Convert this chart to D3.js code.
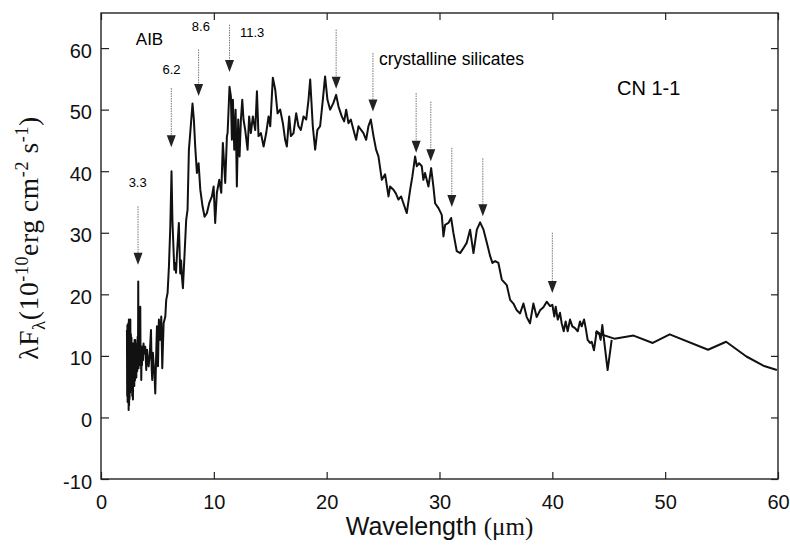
<!DOCTYPE html>
<html>
<head>
<meta charset="utf-8">
<script src="https://cdn.jsdelivr.net/npm/d3@7"></script>
<style>
  body { margin: 0; background: #fff; }
  svg { display: block; }
</style>
</head>
<body>
<div class="chart"></div>
<script>
// SWS part of the spectrum: [wavelength (um), lambda F_lambda]
const swsSpectrum = [
  [2.30, 14.2], [2.32, 3.5], [2.34, 15.0], [2.36, 2.5], [2.38, 14.0], [2.40, 4.5], [2.42, 15.3],
  [2.45, 1.2], [2.47, 15.9], [2.49, 2.0], [2.51, 13.0], [2.53, 3.0], [2.55, 14.5], [2.58, 4.0],
  [2.60, 15.9], [2.62, 5.5], [2.65, 13.5], [2.67, 4.5], [2.70, 13.0], [2.72, 6.0], [2.74, 12.1],
  [2.77, 3.5], [2.80, 11.0], [2.83, 2.9], [2.86, 12.0], [2.89, 5.5], [2.92, 11.5], [2.95, 5.1],
  [2.98, 12.6], [3.01, 6.0], [3.04, 12.6], [3.07, 7.2], [3.10, 11.0], [3.13, 6.5], [3.17, 12.0],
  [3.21, 7.5], [3.25, 13.1], [3.28, 9.0], [3.30, 22.1], [3.33, 8.0], [3.36, 12.0], [3.40, 8.5],
  [3.44, 10.5], [3.48, 18.0], [3.51, 8.5], [3.54, 11.0], [3.57, 6.1], [3.60, 11.5], [3.63, 8.5],
  [3.67, 11.5], [3.72, 9.3], [3.77, 12.0], [3.83, 10.4], [3.92, 11.5], [4.01, 7.7], [4.08, 11.0],
  [4.13, 9.9], [4.22, 8.3], [4.31, 9.9], [4.43, 14.2], [4.49, 8.0], [4.54, 6.1], [4.60, 10.5],
  [4.66, 8.8], [4.74, 7.0], [4.81, 3.9], [4.90, 10.9], [4.96, 14.8], [5.05, 8.3], [5.13, 15.9],
  [5.25, 12.6], [5.34, 16.4], [5.43, 8.0], [5.55, 15.3], [5.70, 16.4], [5.78, 19.1], [5.90, 20.2],
  [6.02, 24.5], [6.14, 30.9], [6.25, 40.0], [6.33, 32.0], [6.43, 27.2], [6.50, 24.0], [6.58, 25.1],
  [6.65, 23.5], [6.73, 26.4], [6.90, 31.6], [7.02, 23.4], [7.10, 25.5], [7.17, 22.9], [7.26, 21.0],
  [7.41, 26.7], [7.55, 32.1], [7.67, 33.7],
  [7.79, 43.5], [7.91, 46.2], [8.11, 51.0], [8.23, 48.4], [8.35, 44.0], [8.50, 39.7], [8.65, 41.3],
  [8.80, 37.0], [9.00, 34.3], [9.18, 32.6], [9.39, 33.2], [9.59, 34.8], [9.83, 35.9], [9.98, 37.5],
  [10.12, 31.6], [10.27, 36.5], [10.48, 38.6], [10.66, 36.5], [10.80, 44.6], [11.01, 38.1],
  [11.16, 45.7], [11.22, 46.2], [11.39, 53.7], [11.51, 52.2], [11.60, 45.1], [11.69, 51.6],
  [11.81, 43.5], [11.93, 50.0], [12.04, 37.5], [12.16, 48.4], [12.28, 42.4], [12.40, 48.4],
  [12.52, 51.6], [12.63, 48.4], [12.78, 46.7], [12.99, 43.5], [13.13, 48.9], [13.28, 46.2],
  [13.46, 48.9], [13.67, 46.7], [13.82, 53.0], [13.96, 45.7], [14.17, 46.2], [14.41, 44.0],
  [14.64, 46.2], [14.85, 48.9], [15.00, 47.3], [15.23, 55.2], [15.44, 53.3], [15.65, 49.4],
  [15.88, 50.0], [16.12, 47.8], [16.32, 45.1], [16.47, 44.0], [16.68, 48.9], [16.83, 45.7],
  [17.06, 46.2], [17.30, 49.4], [17.50, 47.3], [17.71, 46.7], [17.95, 48.9], [18.19, 48.4],
  [18.39, 51.6], [18.54, 54.9], [18.77, 47.3], [18.98, 43.5], [19.18, 46.7], [19.42, 47.3],
  [19.66, 51.6], [19.86, 55.4], [20.07, 51.6], [20.31, 50.0], [20.60, 51.1], [20.84, 52.4],
  [21.05, 50.5], [21.34, 48.9], [21.55, 48.1], [21.73, 50.0], [21.93, 47.8], [22.14, 48.4],
  [22.38, 46.7], [22.61, 45.1], [22.82, 47.3], [23.05, 46.7], [23.26, 46.2], [23.50, 45.1],
  [23.70, 47.3], [23.91, 48.4], [24.15, 45.7], [24.38, 43.5], [24.59, 42.4], [24.89, 38.6],
  [25.18, 39.5], [25.48, 35.9], [25.62, 37.5], [25.92, 37.0], [26.13, 36.4], [26.36, 35.4],
  [26.60, 35.9], [26.80, 34.8], [27.10, 33.2], [27.40, 37.0], [27.60, 39.2], [27.84, 42.4],
  [27.99, 40.8], [28.19, 41.3], [28.43, 40.8], [28.57, 38.6], [28.72, 39.7], [29.02, 37.5],
  [29.26, 40.5], [29.46, 37.5], [29.61, 34.8], [29.91, 34.0], [30.20, 32.9], [30.35, 29.4],
  [30.50, 31.3], [30.79, 31.6], [31.03, 32.4], [31.23, 30.0], [31.53, 27.0], [31.83, 26.7],
  [32.12, 27.5], [32.42, 28.4], [32.71, 30.5], [33.01, 26.7], [33.31, 30.5], [33.60, 31.7],
  [33.90, 30.5], [34.19, 28.4], [34.49, 26.2], [34.69, 25.1], [34.93, 25.4], [35.22, 25.1],
  [35.52, 22.4], [35.96, 21.5], [36.26, 19.1], [36.55, 18.5], [36.85, 17.4], [37.14, 16.9],
  [37.44, 18.5], [37.73, 16.3], [38.02, 15.3], [38.32, 18.5], [38.61, 16.3], [38.91, 17.4],
  [39.21, 17.9], [39.50, 18.8], [39.80, 18.1], [40.00, 18.3], [40.18, 16.4], [40.30, 18.0],
  [40.48, 15.9], [40.68, 17.0], [40.83, 15.3], [41.01, 14.0], [41.18, 15.6], [41.36, 14.0],
  [41.57, 15.9], [41.77, 14.8], [42.01, 14.5], [42.25, 14.0], [42.45, 15.6], [42.60, 14.8],
  [42.81, 15.9], [42.96, 14.5], [43.13, 12.6], [43.34, 12.1], [43.49, 12.3], [43.69, 10.9],
  [43.93, 14.0], [44.14, 13.7], [44.28, 12.6], [44.43, 15.0], [44.55, 13.1], [44.90, 7.7],
  [45.26, 12.6]
];

// LWS part of the spectrum
const lwsSpectrum = [
  [43.8, 13.8], [45.5, 12.8], [47.2, 13.3], [48.9, 12.1], [50.4, 13.5],
  [53.8, 11.0], [55.4, 12.3], [57.2, 9.9], [58.7, 8.4], [59.9, 7.7]
];

// feature arrows: wavelength, top of dotted line, arrow tip (flux units)
const featureWave = [3.28, 6.23, 8.65, 11.39, 20.84, 24.1, 27.93, 29.23, 31.09, 33.84, 40.0];
const featureTop  = [34.3, 53.5, 59.8, 63.8, 63.0, 59.2, 52.7, 51.3, 43.8, 42.1, 30.0];
const featureTip  = [24.8, 43.9, 52.2, 56.1, 53.4, 49.7, 43.0, 41.6, 34.2, 32.7, 20.2];

// band labels: text, wavelength, flux
const bandLabels = [
  {text: '3.3',  w: 3.25,  f: 37.4},
  {text: '6.2',  w: 6.25,  f: 55.8},
  {text: '8.6',  w: 8.85,  f: 62.7},
  {text: '11.3', w: 13.4,  f: 61.8}
];

const xTicks = [0, 10, 20, 30, 40, 50, 60];
const yTicks = [-10, 0, 10, 20, 30, 40, 50, 60];

const width = 790, height = 546;
const margin = {left: 101, right: 12, top: 13, bottom: 67};
const sans = '"Liberation Sans", Arial, Helvetica, sans-serif';
const serif = '"Liberation Serif", "Times New Roman", serif';

const svg = d3.select('.chart').append('svg')
    .attr('width', width)
    .attr('height', height);

const x = d3.scaleLinear().domain([0, 60]).range([margin.left, width - margin.right]);
const y = d3.scaleLinear().domain([-10, 65.7]).range([height - margin.bottom, margin.top]);

// plain hyphen for negative labels, like the original
const plain = d => String(d);

// ticks on all four sides, pointing in
const axisB = d3.axisBottom(x).tickValues(xTicks).tickFormat(plain).tickSizeInner(-7).tickSizeOuter(0).tickPadding(16);
const axisT = d3.axisTop(x).tickValues(xTicks).tickSizeInner(-7).tickSizeOuter(0).tickFormat('');
const axisL = d3.axisLeft(y).tickValues(yTicks).tickFormat(plain).tickSizeInner(-8).tickSizeOuter(0).tickPadding(9);
const axisR = d3.axisRight(y).tickValues(yTicks).tickSizeInner(-7).tickSizeOuter(0).tickFormat('');

function styleAxis(g) {
  g.select('.domain').remove();
  g.selectAll('.tick line').attr('stroke', '#222').attr('stroke-width', 1.2);
  g.selectAll('.tick text').attr('fill', '#111').attr('font-family', sans).attr('font-size', 20);
}

svg.append('g').attr('transform', `translate(0,${y(-10)})`).call(axisB).call(styleAxis);
svg.append('g').attr('transform', `translate(0,${y(65.7)})`).call(axisT).call(styleAxis);
svg.append('g').attr('transform', `translate(${x(0)},0)`).call(axisL).call(styleAxis)
    .selectAll('.tick text').attr('dy', '0.45em');
svg.append('g').attr('transform', `translate(${x(60)},0)`).call(axisR).call(styleAxis);

// frame
svg.append('rect')
    .attr('x', x(0)).attr('y', y(65.7))
    .attr('width', x(60) - x(0)).attr('height', y(-10) - y(65.7))
    .attr('fill', 'none').attr('stroke', '#222').attr('stroke-width', 1.4);

// spectrum
const line = d3.line().x(d => x(d[0])).y(d => y(d[1]));
[swsSpectrum, lwsSpectrum].forEach(s => {
  svg.append('path')
      .datum(s)
      .attr('d', line)
      .attr('fill', 'none')
      .attr('stroke', '#111')
      .attr('stroke-width', 2)
      .attr('stroke-linejoin', 'round');
});

// feature arrows
featureWave.forEach((w, i) => {
  const cx = x(w), tip = y(featureTip[i]);
  svg.append('line')
      .attr('x1', cx).attr('x2', cx)
      .attr('y1', y(featureTop[i])).attr('y2', tip - 10)
      .attr('stroke', '#777')
      .attr('stroke-width', 1)
      .attr('stroke-dasharray', '1.5,1');
  svg.append('path')
      .attr('d', `M${cx - 4.5},${tip - 12} L${cx + 4.5},${tip - 12} L${cx},${tip} Z`)
      .attr('fill', '#222');
});

// annotation text
bandLabels.forEach(d => {
  svg.append('text')
      .attr('x', x(d.w)).attr('y', y(d.f))
      .attr('text-anchor', 'middle')
      .attr('font-family', sans).attr('font-size', 13)
      .text(d.text);
});

svg.append('text')
    .attr('x', x(4.3)).attr('y', 45)
    .attr('text-anchor', 'middle')
    .attr('font-family', sans).attr('font-size', 17)
    .text('AIB');

svg.append('text')
    .attr('x', 379).attr('y', 65)
    .attr('font-family', sans).attr('font-size', 17.5)
    .text('crystalline silicates');

svg.append('text')
    .attr('x', 617).attr('y', 95)
    .attr('font-family', sans).attr('font-size', 20)
    .text('CN 1-1');

// x axis title
const xt = svg.append('text')
    .attr('x', (x(0) + x(60)) / 2).attr('y', 535)
    .attr('text-anchor', 'middle')
    .attr('font-family', sans).attr('font-size', 25)
    .attr('fill', '#111');
xt.append('tspan').text('Wavelength ');
xt.append('tspan').attr('font-family', serif).text('(μm)');

// y axis title
const yt = svg.append('text')
    .attr('transform', 'translate(38,238) rotate(-90)')
    .attr('text-anchor', 'middle')
    .attr('font-family', serif).attr('font-size', 27.5)
    .attr('letter-spacing', 0.6)
    .attr('fill', '#111');
yt.append('tspan').text('λF');
yt.append('tspan').attr('font-size', 19).attr('dy', 7).text('λ');
yt.append('tspan').attr('dy', -7).text('(10');
yt.append('tspan').attr('font-size', 18).attr('dy', -10).text('-10');
yt.append('tspan').attr('dy', 10).text('erg cm');
yt.append('tspan').attr('font-size', 18).attr('dy', -10).text('-2');
yt.append('tspan').attr('dy', 10).text(' s');
yt.append('tspan').attr('font-size', 18).attr('dy', -10).text('-1');
yt.append('tspan').attr('dy', 10).text(')');
</script>
</body>
</html>
